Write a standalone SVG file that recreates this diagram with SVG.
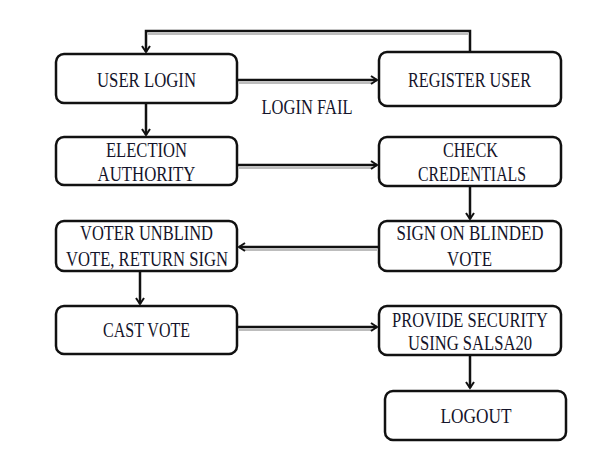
<svg xmlns="http://www.w3.org/2000/svg" width="600" height="450" viewBox="0 0 600 450">
<defs>
<marker id="arr" markerWidth="10" markerHeight="10" refX="8" refY="5" orient="auto" markerUnits="userSpaceOnUse">
<path d="M2,1 L8,5 L2,9" fill="none" stroke="#111" stroke-width="2"/>
</marker>
<style>
.box{fill:#fff;stroke:#111;stroke-width:2.5}
.t{font-family:"Liberation Serif","Times New Roman",serif;font-size:21px;fill:#14142a;text-anchor:middle}
.c{fill:none;stroke:#111;stroke-width:2.5}
.s{fill:none;stroke:#bdbdbd;stroke-width:2}
</style>
</defs>
<rect width="600" height="450" fill="#fff"/>
<g id="connectors">
<path class="s" d="M148,34 H468"/>
<path class="c" d="M470,52 V31 H146 V52" marker-end="url(#arr)"/>
<path class="s" d="M239,83 H372"/>
<path class="c" d="M237,80 H377" marker-end="url(#arr)"/>
<path class="c" d="M146,103 V135" marker-end="url(#arr)"/>
<path class="s" d="M239,168 H372"/>
<path class="c" d="M237,165 H377" marker-end="url(#arr)"/>
<path class="c" d="M470,186 V219" marker-end="url(#arr)"/>
<path class="s" d="M244,250 H377"/>
<path class="c" d="M379,247 H239" marker-end="url(#arr)"/>
<path class="c" d="M140,271 V304" marker-end="url(#arr)"/>
<path class="s" d="M239,330 H372"/>
<path class="c" d="M237,327 H377" marker-end="url(#arr)"/>
<path class="c" d="M470,355 V388" marker-end="url(#arr)"/>
<text class="t" x="307" y="114" textLength="91" lengthAdjust="spacingAndGlyphs">LOGIN FAIL</text>
</g>
<g id="user-login">
<rect class="box" x="56" y="54" width="181" height="49" rx="8"/>
<text class="t" x="146.5" y="87" textLength="99" lengthAdjust="spacingAndGlyphs">USER LOGIN</text>
</g>
<g id="register-user">
<rect class="box" x="379" y="52" width="182" height="54" rx="8"/>
<text class="t" x="469.5" y="87" textLength="123" lengthAdjust="spacingAndGlyphs">REGISTER USER</text>
</g>
<g id="election-authority">
<rect class="box" x="56" y="137" width="181" height="48" rx="8"/>
<text class="t" x="146.5" y="157" textLength="81" lengthAdjust="spacingAndGlyphs">ELECTION</text>
<text class="t" x="146.5" y="181" textLength="98" lengthAdjust="spacingAndGlyphs">AUTHORITY</text>
</g>
<g id="check-credentials">
<rect class="box" x="379" y="137" width="182" height="49" rx="8"/>
<text class="t" x="470.5" y="157" textLength="55" lengthAdjust="spacingAndGlyphs">CHECK</text>
<text class="t" x="472" y="181" textLength="108" lengthAdjust="spacingAndGlyphs">CREDENTIALS</text>
</g>
<g id="sign-on-blinded-vote">
<rect class="box" x="379" y="221" width="182" height="50" rx="8"/>
<text class="t" x="470" y="240" textLength="147" lengthAdjust="spacingAndGlyphs">SIGN ON BLINDED</text>
<text class="t" x="469.5" y="266" textLength="45" lengthAdjust="spacingAndGlyphs">VOTE</text>
</g>
<g id="voter-unblind">
<rect class="box" x="56" y="221" width="181" height="50" rx="8"/>
<text class="t" x="146.5" y="240" textLength="133" lengthAdjust="spacingAndGlyphs">VOTER UNBLIND</text>
<text class="t" x="147" y="266" textLength="162" lengthAdjust="spacingAndGlyphs">VOTE, RETURN SIGN</text>
</g>
<g id="cast-vote">
<rect class="box" x="56" y="306" width="181" height="48" rx="8"/>
<text class="t" x="146.5" y="337" textLength="87" lengthAdjust="spacingAndGlyphs">CAST VOTE</text>
</g>
<g id="provide-security">
<rect class="box" x="379" y="306" width="182" height="49" rx="8"/>
<text class="t" x="470" y="327" textLength="156" lengthAdjust="spacingAndGlyphs">PROVIDE SECURITY</text>
<text class="t" x="470" y="350" textLength="124" lengthAdjust="spacingAndGlyphs">USING SALSA20</text>
</g>
<g id="logout">
<rect class="box" x="385" y="391" width="181" height="49" rx="8"/>
<text class="t" x="476" y="423" textLength="71" lengthAdjust="spacingAndGlyphs">LOGOUT</text>
</g>
</svg>
